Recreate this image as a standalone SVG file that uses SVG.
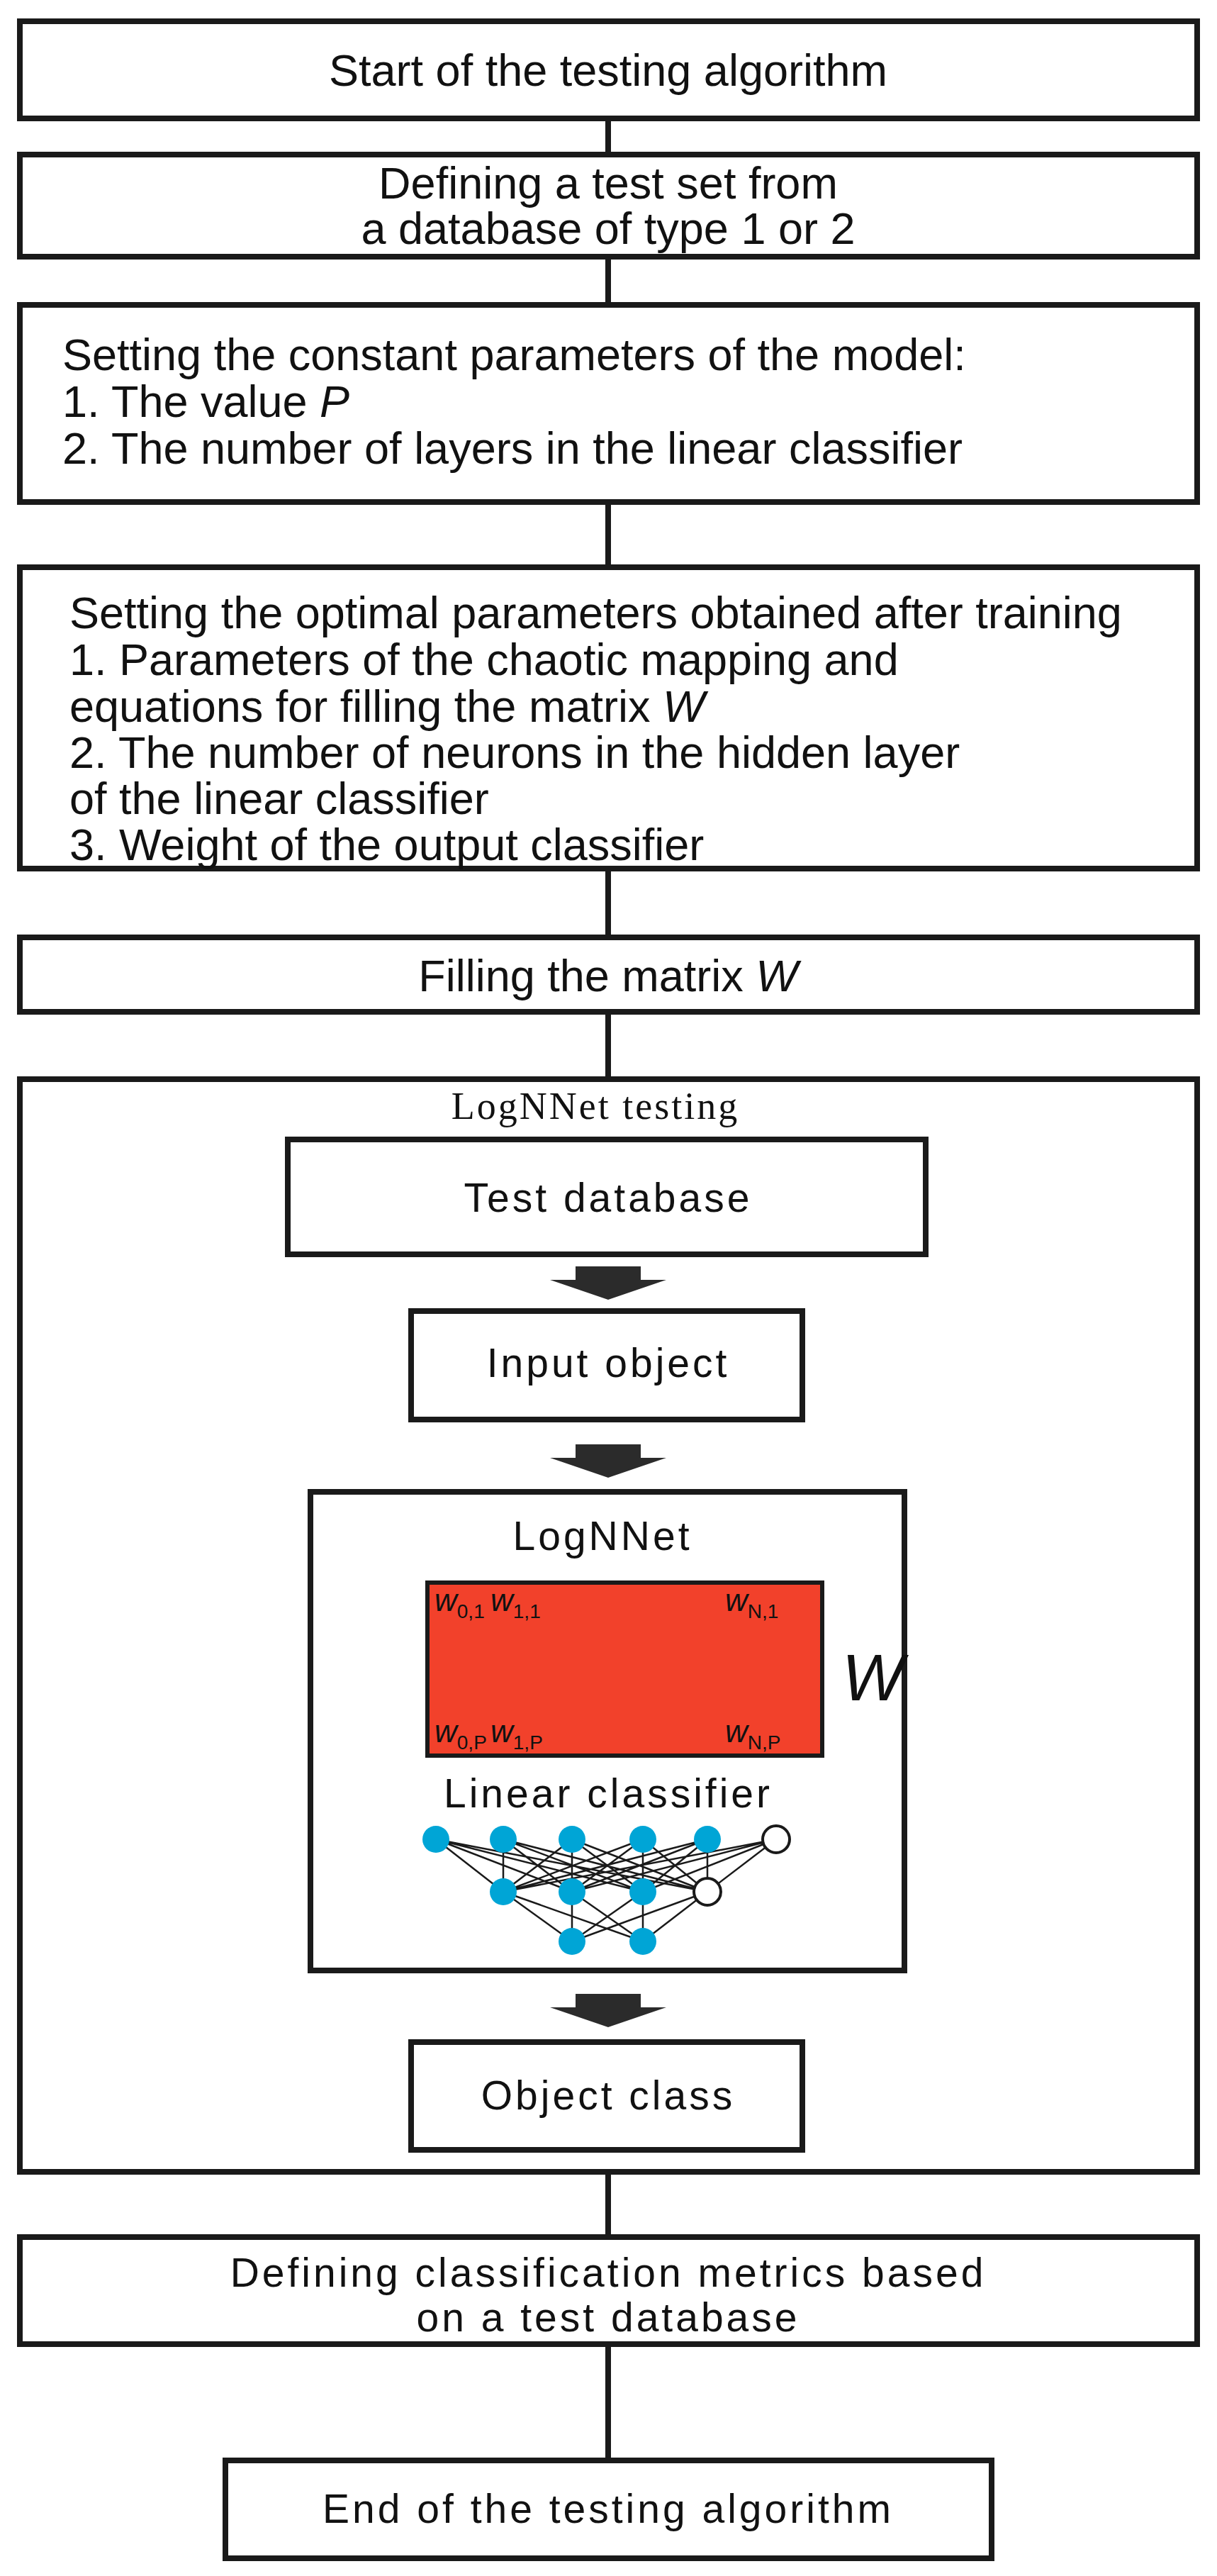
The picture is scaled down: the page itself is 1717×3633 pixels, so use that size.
<svg xmlns="http://www.w3.org/2000/svg" width="1717" height="3633" viewBox="0 0 1717 3633">
<style>
.b{fill:#fff;stroke:#1a1a1a;stroke-width:8}
.t{font-family:"Liberation Sans",Arial,sans-serif;font-size:63px;fill:#111}
.u{font-family:"Liberation Sans",Arial,sans-serif;font-size:57px;letter-spacing:4px;fill:#111}
.c{text-anchor:middle}
.w{font-family:"Liberation Sans",Arial,sans-serif;font-style:italic;font-size:44px;fill:#111}
.s{font-style:normal;font-size:28px}
.big{font-family:"Liberation Sans",Arial,sans-serif;font-style:italic;font-size:92px;fill:#111}
.l{stroke:#1a1a1a;stroke-width:8}
.n{stroke:#1a1a1a;stroke-width:2.5;fill:none}
.bl{fill:#00a5d6}
.wh{fill:#fff;stroke:#1a1a1a;stroke-width:4}
.ar{fill:#2b2b2b}
</style>
<g id="start"><rect class="b" x="28" y="30" width="1661" height="137"/><text class="t c" x="858" y="121">Start of the testing algorithm</text></g>
<g id="define"><rect class="b" x="28" y="218" width="1661" height="144"/><text class="t c" x="858" y="280">Defining a test set from</text><text class="t c" x="858" y="344">a database of type 1 or 2</text></g>
<g id="const"><rect class="b" x="28" y="430" width="1661" height="278"/>
<text class="t" x="88" y="522">Setting the constant parameters of the model:</text>
<text class="t" x="88" y="588">1. The value <tspan font-style="italic">P</tspan></text>
<text class="t" x="88" y="654">2. The number of layers in the linear classifier</text></g>
<g id="optimal"><rect class="b" x="28" y="800" width="1661" height="425"/>
<text class="t" x="98" y="886">Setting the optimal parameters obtained after training</text>
<text class="t" x="98" y="952">1. Parameters of the chaotic mapping and</text>
<text class="t" x="98" y="1018">equations for filling the matrix <tspan font-style="italic">W</tspan></text>
<text class="t" x="98" y="1083">2. The number of neurons in the hidden layer</text>
<text class="t" x="98" y="1148">of the linear classifier</text>
<text class="t" x="98" y="1213">3. Weight of the output classifier</text></g>
<g id="fill"><rect class="b" x="28" y="1322" width="1661" height="105"/><text class="t c" x="858" y="1398">Filling the matrix <tspan font-style="italic">W</tspan></text></g>
<g id="testing"><rect class="b" x="28" y="1522" width="1661" height="1541"/>
<text class="c" x="840" y="1578" font-family="'Liberation Serif','Times New Roman',serif" font-size="54" letter-spacing="3" fill="#111">LogNNet testing</text></g>
<g id="testdb"><rect class="b" x="406" y="1607" width="900" height="162"/><text class="u c" x="858" y="1709">Test database</text></g>
<g id="input"><rect class="b" x="580" y="1849" width="552" height="153"/><text class="u c" x="858" y="1942">Input object</text></g>
<g id="lognnet"><rect class="b" x="438" y="2104" width="838" height="675"/>
<text class="u c" x="850" y="2186">LogNNet</text>
<rect x="603" y="2232" width="557" height="244" fill="#f2412b" stroke="#1a1a1a" stroke-width="6"/>
<text class="w" x="613" y="2272">w<tspan class="s" dy="10">0,1</tspan></text>
<text class="w" x="692" y="2272">w<tspan class="s" dy="10">1,1</tspan></text>
<text class="w" x="1023" y="2272">w<tspan class="s" dy="10">N,1</tspan></text>
<text class="w" x="613" y="2457">w<tspan class="s" dy="10">0,P</tspan></text>
<text class="w" x="692" y="2457">w<tspan class="s" dy="10">1,P</tspan></text>
<text class="w" x="1023" y="2457">w<tspan class="s" dy="10">N,P</tspan></text>
<text class="big" x="1188" y="2398">W</text>
<text class="u c" x="858" y="2549">Linear classifier</text>
<path class="n" d="M615,2594L710,2668M615,2594L807,2668M615,2594L907,2668M615,2594L998,2668
M710,2594L710,2668M710,2594L807,2668M710,2594L907,2668M710,2594L998,2668
M807,2594L710,2668M807,2594L807,2668M807,2594L907,2668M807,2594L998,2668
M907,2594L710,2668M907,2594L807,2668M907,2594L907,2668M907,2594L998,2668
M998,2594L710,2668M998,2594L807,2668M998,2594L907,2668M998,2594L998,2668
M1095,2594L710,2668M1095,2594L807,2668M1095,2594L907,2668M1095,2594L998,2668
M710,2668L807,2738M710,2668L907,2738M807,2668L807,2738M807,2668L907,2738
M907,2668L807,2738M907,2668L907,2738M998,2668L807,2738M998,2668L907,2738"/>
<circle class="bl" cx="615" cy="2594" r="19"/><circle class="bl" cx="710" cy="2594" r="19"/><circle class="bl" cx="807" cy="2594" r="19"/><circle class="bl" cx="907" cy="2594" r="19"/><circle class="bl" cx="998" cy="2594" r="19"/><circle class="wh" cx="1095" cy="2594" r="19"/>
<circle class="bl" cx="710" cy="2668" r="19"/><circle class="bl" cx="807" cy="2668" r="19"/><circle class="bl" cx="907" cy="2668" r="19"/><circle class="wh" cx="998" cy="2668" r="19"/>
<circle class="bl" cx="807" cy="2738" r="19"/><circle class="bl" cx="907" cy="2738" r="19"/>
</g>
<g id="objclass"><rect class="b" x="580" y="2880" width="552" height="152"/><text class="u c" x="858" y="2975">Object class</text></g>
<g id="metrics"><rect class="b" x="28" y="3155" width="1661" height="151"/><text class="u c" x="858" y="3225">Defining classification metrics based</text><text class="u c" x="858" y="3288">on a test database</text></g>
<g id="end"><rect class="b" x="318" y="3470" width="1081" height="138"/><text class="u c" x="858" y="3558">End of the testing algorithm</text></g>
<g id="connectors">
<line class="l" x1="858" y1="171" x2="858" y2="214"/>
<line class="l" x1="858" y1="366" x2="858" y2="426"/>
<line class="l" x1="858" y1="712" x2="858" y2="796"/>
<line class="l" x1="858" y1="1229" x2="858" y2="1318"/>
<line class="l" x1="858" y1="1431" x2="858" y2="1518"/>
<line class="l" x1="858" y1="3067" x2="858" y2="3151"/>
<line class="l" x1="858" y1="3310" x2="858" y2="3466"/>
<path class="ar" d="M812,1786 H904 V1805 H940 L858,1833 L776,1805 H812 Z"/>
<path class="ar" d="M812,2037 H904 V2056 H940 L858,2084 L776,2056 H812 Z"/>
<path class="ar" d="M812,2812 H904 V2831 H940 L858,2859 L776,2831 H812 Z"/>
</g>
</svg>
